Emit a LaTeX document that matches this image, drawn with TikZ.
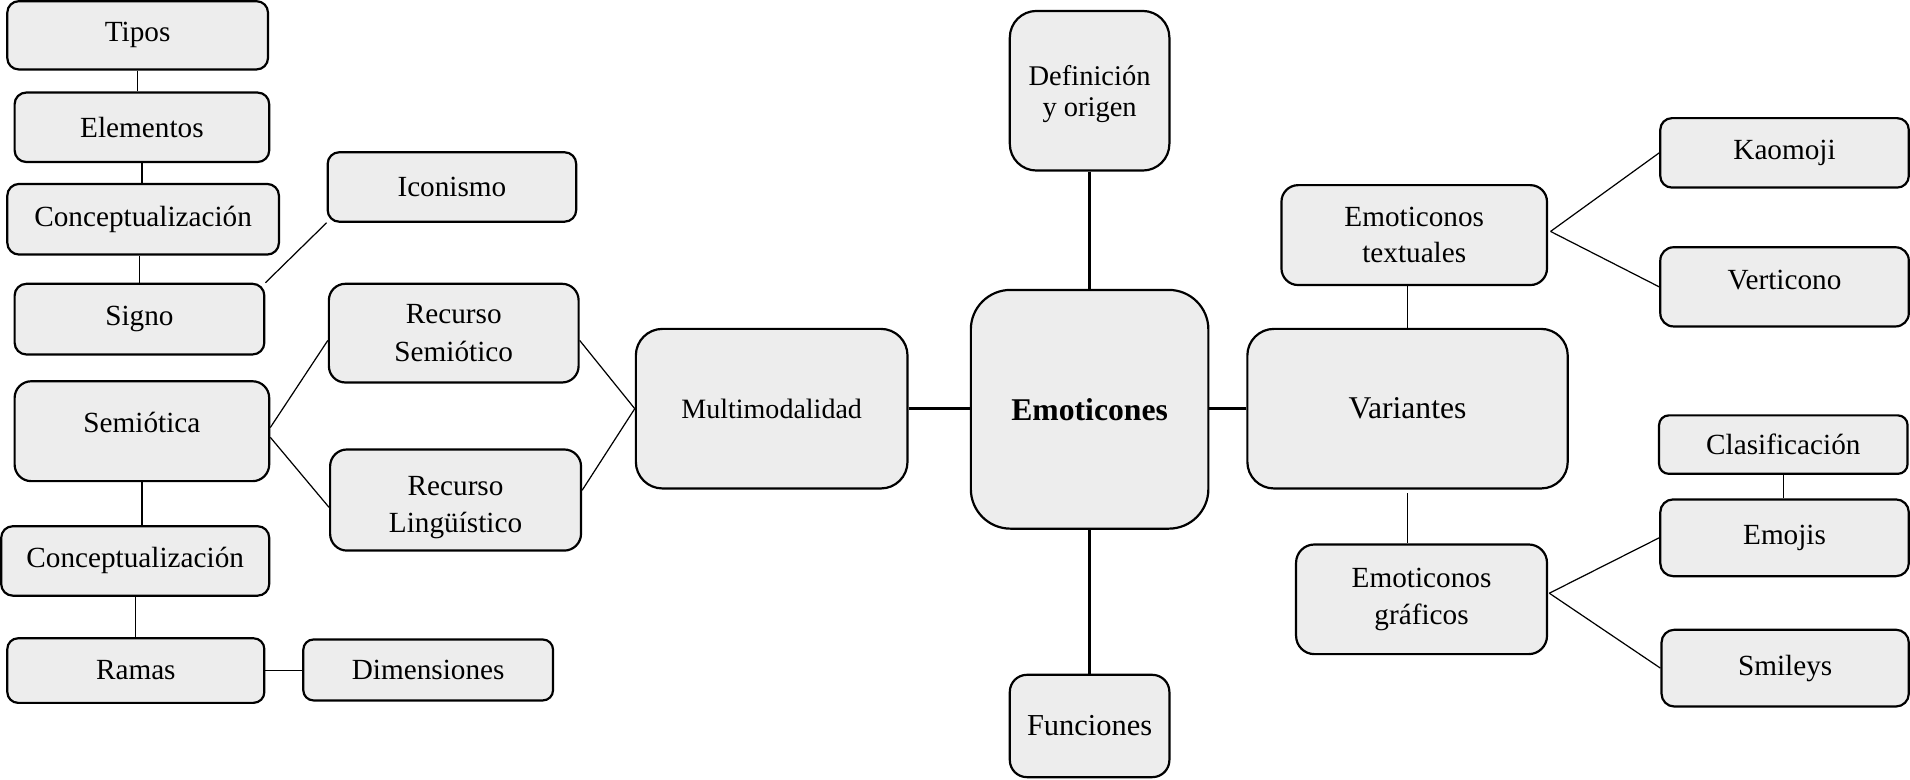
\documentclass[tikz,border=0pt]{standalone}
\usepackage{fontspec}
\setmainfont{Liberation Serif}
\usetikzlibrary{calc}
\definecolor{boxfill}{RGB}{237,237,237}
\tikzset{
  bx/.style={draw=black, fill=boxfill, line width=0.9pt, align=center, inner sep=0pt,
    font=\fontsize{12}{15}\selectfont},
  thinline/.style={line width=0.5pt},
  thickline/.style={line width=1pt}
}
\newcommand\mybox[7][]{%
  \pgfmathsetmacro\myW{(#5-#3)*0.5}%
  \pgfmathsetmacro\myH{(#6-#4)*0.5}%
  \pgfmathsetmacro\myR{min(\myW,\myH)/6}%
  \node[bx, minimum width=\myW pt, minimum height=\myH pt, rounded corners=\myR pt, #1] (#2) at ({(#3+#5)/2},{(#4+#6)/2}) {#7};%
}
\begin{document}
\begin{tikzpicture}[x=0.5pt,y=-0.5pt]
\useasboundingbox (0,0) rectangle (1568,640);
% left part
\mybox{tipos}{6}{1}{220}{57}{Tipos}
\mybox{elem}{12}{76}{221}{133}{Elementos}
\mybox{concA}{6}{151}{229}{209}{Conceptualización}
\mybox{signo}{12}{233}{217}{291}{Signo}
\mybox{icon}{269}{125}{473}{182}{Iconismo}
\mybox[font=\fontsize{12}{15.5}\selectfont]{rs}{270}{233}{475}{314}{Recurso\\Semiótico}
\mybox{semio}{12}{313}{221}{395}{\raisebox{-0.5pt}[0pt][0pt]{Semiótica}}
\mybox[font=\fontsize{12}{15.5}\selectfont]{rl}{271}{369}{477}{452}{\rule{0pt}{14pt}Recurso\\Lingüístico}
\mybox{concB}{1}{432}{221}{489}{Conceptualización}
\mybox{ramas}{6}{524}{217}{577}{Ramas}
\mybox{dim}{249}{525}{454}{575}{Dimensiones}
% centre
\mybox[font=\fontsize{11.5}{14}\selectfont]{multi}{522}{270}{745}{401}{Multimodalidad}
\mybox[font=\fontsize{11.7}{12.5}\selectfont]{def}{829}{9}{960}{140}{\rule{0pt}{11pt}Definición\\y origen}
\mybox[font=\fontsize{13}{15}\selectfont\bfseries]{emo}{797}{238}{992}{434}{Emoticones}
\mybox[font=\fontsize{12.5}{15}\selectfont]{fun}{829}{554}{960}{638}{Funciones}
% right part
\mybox[font=\fontsize{13}{15}\selectfont]{var}{1024}{270}{1287}{401}{Variantes}
\mybox{textu}{1052}{152}{1270}{234}{Emoticonos\\textuales}
\mybox{kao}{1363}{97}{1567}{154}{Kaomoji}
\mybox{vert}{1363}{203}{1567}{268}{\raisebox{6pt}{Verticono}}
\mybox{clas}{1362}{341}{1566}{389}{Clasificación}
\mybox{emojis}{1363}{410}{1567}{473}{Emojis}
\mybox{graf}{1064}{447}{1270}{537}{Emoticonos\\gráficos}
\mybox{smi}{1364}{517}{1567}{580}{Smileys}
% connectors left
\draw[thinline] (tipos.south) -- (tipos.south |- elem.north);
\draw[thinline] (elem.south) -- (elem.south |- concA.north);
\draw[thinline] (signo.north) -- (signo.north |- concA.south);
\draw[thinline] (signo.north east) -- (icon.south west);
\draw[thinline] ($(semio.east)+(0,-3)$) -- ($(rs.west)+(0,6)$);
\draw[thinline] ($(semio.east)+(0,5)$) -- ($(rl.west)+(0,6)$);
\draw[thinline] ($(rs.east)+(0,6)$) -- (multi.west);
\draw[thinline] ($(rl.east)+(0,-8)$) -- (multi.west);
\draw[thinline] (semio.south) -- (semio.south |- concB.north);
\draw[thinline] (concB.south) -- (concB.south |- ramas.north);
\draw[thinline] (ramas.east) -- (ramas.east -| dim.west);
% centre
\draw[thickline] (def.south) -- (def.south |- emo.north);
\draw[thickline] (emo.south) -- (emo.south |- fun.north);
\draw[thickline] (multi.east) -- (multi.east -| emo.west);
\draw[thickline] (var.west) -- (var.west -| emo.east);
% right
\draw[thinline] (var.north) -- (var.north |- textu.south);
\draw[thinline] ($(var.south)+(0,3)$) -- (var.south |- graf.north);
\draw[thinline] ($(textu.east)+(2,-3)$) -- (kao.west);
\draw[thinline] ($(textu.east)+(2,-3)$) -- (vert.west);
\draw[thinline] ($(graf.east)+(1,-5)$) -- (emojis.west);
\draw[thinline] ($(graf.east)+(1,-5)$) -- (smi.west);
\draw[thinline] (clas.south) -- (clas.south |- emojis.north);
\end{tikzpicture}
\end{document}
